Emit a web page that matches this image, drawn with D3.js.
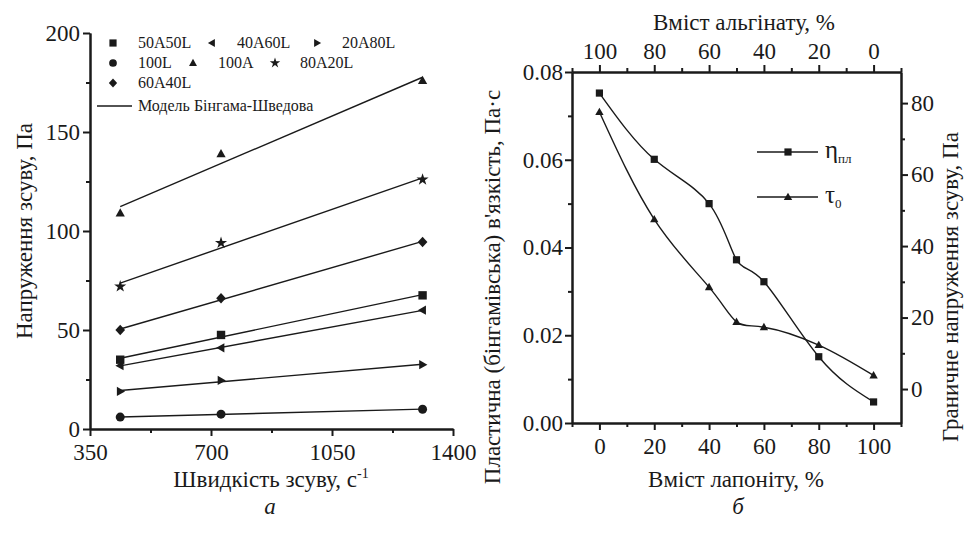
<!DOCTYPE html>
<html>
<head>
<meta charset="utf-8">
<script src="https://cdn.jsdelivr.net/npm/d3@7"></script>
<style>
  body { margin: 0; background: #fff; }
</style>
</head>
<body>
<svg id="chart" width="972" height="536"></svg>
<script>
// Panel a: shear stress vs shear rate, 7 samples + Bingham fits
var shearRate = [437.4, 729, 1312];
var sampleNames = ['50A50L', '40A60L', '20A80L', '100L', '100A', '80A20L', '60A40L'];
var sampleMarkers = ['square', 'triLeft', 'triRight', 'circle', 'triUp', 'star', 'diamond'];
var stress50A50L = [35, 47.5, 67.5];
var stress40A60L = [32, 41, 60];
var stress20A80L = [19, 24.5, 32.5];
var stress100L = [6, 7.5, 10];
var stress100A = [109, 139, 176];
var stress80A20L = [72, 94, 126];
var stress60A40L = [50, 66, 94.5];
var stressTicks = [0, 50, 100, 150, 200];
var rateTicks = [350, 700, 1050, 1400];

// Panel б: plastic viscosity and yield stress vs laponite content
var laponite = [0, 20, 40, 50, 60, 80, 100];
var viscosity = [0.0752, 0.0601, 0.0500, 0.0372, 0.0322, 0.0151, 0.0048];
var yieldStress = [77.5, 47.5, 28.5, 18.8, 17.3, 12.3, 3.8];
var contentTicks = [0, 20, 40, 60, 80, 100];
var viscTicks = [0, 0.02, 0.04, 0.06, 0.08];
var yieldTicks = [0, 20, 40, 60, 80];

var stressSeries = [stress50A50L, stress40A60L, stress20A80L, stress100L, stress100A, stress80A20L, stress60A40L];

var FONT = 'Liberation Serif';
var svg = d3.select('#chart');
var ink = '#1a1a1a';

// marker shapes, centred on 0,0
function markerPath(type, h) {
  if (type == 'square') return 'M' + (-h) + ',' + (-h) + 'H' + h + 'V' + h + 'H' + (-h) + 'Z';
  if (type == 'circle') return d3.symbol(d3.symbolCircle, Math.PI * h * h * 1.15)();
  if (type == 'star') return d3.symbol(d3.symbolStar, h * h * 2.6)();
  if (type == 'triUp') return 'M0,' + (-h * 1.15) + 'L' + (h * 1.1) + ',' + (h * 0.8) + 'L' + (-h * 1.1) + ',' + (h * 0.8) + 'Z';
  if (type == 'triLeft') return 'M' + (-h * 1.15) + ',0L' + (h * 0.8) + ',' + (-h * 1.1) + 'L' + (h * 0.8) + ',' + (h * 1.1) + 'Z';
  if (type == 'triRight') return 'M' + (h * 1.15) + ',0L' + (-h * 0.8) + ',' + (-h * 1.1) + 'L' + (-h * 0.8) + ',' + (h * 1.1) + 'Z';
  if (type == 'diamond') return 'M0,' + (-h * 1.25) + 'L' + (h * 1.15) + ',0L0,' + (h * 1.25) + 'L' + (-h * 1.15) + ',0Z';
}

function styleAxis(g) {
  g.attr('font-family', FONT);
  g.select('.domain').attr('stroke', ink).attr('stroke-width', 2);
  g.selectAll('.tick line').attr('stroke', ink).attr('stroke-width', 2);
  g.selectAll('.tick text').attr('font-size', 23).attr('fill', ink).attr('font-family', FONT);
}

function label(sel) {
  return sel.append('text').attr('font-family', FONT).attr('fill', ink);
}

// least squares line for the Bingham–Shvedov model
function fitLine(xs, ys) {
  var mx = d3.mean(xs), my = d3.mean(ys);
  var sxy = d3.sum(xs, function(x, i) { return (x - mx) * (ys[i] - my); });
  var sxx = d3.sum(xs, function(x) { return (x - mx) * (x - mx); });
  var b = sxy / sxx;
  return function(x) { return my + b * (x - mx); };
}

// ---------------- panel a ----------------
var xA = d3.scaleLinear().domain([350, 1400]).range([90, 453]);
var yA = d3.scaleLinear().domain([0, 200]).range([429, 33]);

svg.append('g').attr('transform', 'translate(90,0)')
  .call(d3.axisLeft(yA).tickValues([25, 75, 125, 175]).tickSize(4).tickFormat('').tickSizeOuter(0))
  .call(styleAxis);
svg.append('g').attr('transform', 'translate(90,0)')
  .call(d3.axisLeft(yA).tickValues(stressTicks).tickSize(7).tickPadding(3).tickSizeOuter(0))
  .call(styleAxis);
svg.append('g').attr('transform', 'translate(0,429)')
  .call(d3.axisBottom(xA).tickValues([525, 875, 1225]).tickSize(4).tickFormat('').tickSizeOuter(0))
  .call(styleAxis);
svg.append('g').attr('transform', 'translate(0,429)')
  .call(d3.axisBottom(xA).tickValues(rateTicks).tickSize(7).tickPadding(8).tickFormat(d3.format('d')).tickSizeOuter(0))
  .call(styleAxis);

var gA = svg.append('g');
stressSeries.forEach(function(vals, i) {
  var f = fitLine(shearRate, vals);
  var ends = [shearRate[0], shearRate[shearRate.length - 1]];
  gA.append('line')
    .attr('x1', xA(ends[0])).attr('y1', yA(f(ends[0])))
    .attr('x2', xA(ends[1])).attr('y2', yA(f(ends[1])))
    .attr('stroke', ink).attr('stroke-width', 1.4);
  gA.selectAll(null).data(vals).enter().append('path')
    .attr('d', markerPath(sampleMarkers[i], 4.2))
    .attr('transform', function(d, j) { return 'translate(' + xA(shearRate[j]) + ',' + yA(d) + ')'; })
    .attr('fill', ink);
});

// legend a
var legendA = [
  [0, 0, 0], [1, 99, 0], [2, 204, 0],
  [3, 0, 20], [4, 80, 20], [5, 162, 20],
  [6, 0, 40]
];
var lg = svg.append('g').attr('transform', 'translate(113,43)');
legendA.forEach(function(e) {
  lg.append('path').attr('d', markerPath(sampleMarkers[e[0]], 3.6))
    .attr('transform', 'translate(' + e[1] + ',' + e[2] + ')').attr('fill', ink);
  label(lg).attr('x', e[1] + 25).attr('y', e[2] + 5)
    .attr('font-size', 16).text(sampleNames[e[0]]);
});
lg.append('line').attr('x1', -16).attr('x2', 19).attr('y1', 63).attr('y2', 63)
  .attr('stroke', ink).attr('stroke-width', 1.4);
label(lg).attr('x', 25).attr('y', 68).attr('font-size', 16).text('Модель Бінгама-Шведова');

label(svg).attr('transform', 'translate(32,231) rotate(-90)')
  .attr('text-anchor', 'middle').attr('font-size', 23).text('Напруження зсуву, Па');
var xt = label(svg).attr('x', 271).attr('y', 487).attr('text-anchor', 'middle').attr('font-size', 23);
xt.append('tspan').text('Швидкість зсуву, с');
xt.append('tspan').attr('dy', -9).attr('font-size', 14).text('-1');
label(svg).attr('x', 270).attr('y', 514).attr('text-anchor', 'middle')
  .attr('font-size', 23).attr('font-style', 'italic').text('a');

// ---------------- panel б ----------------
var xB = d3.scaleLinear().domain([-10, 110]).range([572, 901]);
var yB = d3.scaleLinear().domain([0, 0.08]).range([423, 72]);
var yB2 = d3.scaleLinear().domain([-9.5, 88.7]).range([423, 72]);
var xTop = d3.scaleLinear().domain([110, -10]).range([572, 901]);

function minorOf(ticks, step) {
  return ticks.slice(0, -1).map(function(t) { return t + step; });
}

svg.append('g').attr('transform', 'translate(572,0)')
  .call(d3.axisLeft(yB).tickValues(minorOf(viscTicks, 0.01)).tickSize(4).tickFormat('').tickSizeOuter(0))
  .call(styleAxis);
svg.append('g').attr('transform', 'translate(572,0)')
  .call(d3.axisLeft(yB).tickValues(viscTicks).tickSize(7).tickPadding(2).tickFormat(d3.format('.2f')).tickSizeOuter(0))
  .call(styleAxis);
svg.append('g').attr('transform', 'translate(901,0)')
  .call(d3.axisRight(yB2).tickValues(minorOf(yieldTicks, 10)).tickSize(4).tickFormat('').tickSizeOuter(0))
  .call(styleAxis);
svg.append('g').attr('transform', 'translate(901,0)')
  .call(d3.axisRight(yB2).tickValues(yieldTicks).tickSize(7).tickPadding(3).tickSizeOuter(0))
  .call(styleAxis);
svg.append('g').attr('transform', 'translate(0,423)')
  .call(d3.axisBottom(xB).tickValues([-10, 10, 30, 50, 70, 90, 110]).tickSize(4).tickFormat('').tickSizeOuter(0))
  .call(styleAxis);
svg.append('g').attr('transform', 'translate(0,423)')
  .call(d3.axisBottom(xB).tickValues(contentTicks).tickSize(7).tickPadding(8).tickSizeOuter(0))
  .call(styleAxis);
svg.append('g').attr('transform', 'translate(0,72)')
  .call(d3.axisTop(xTop).tickValues([110, 90, 70, 50, 30, 10, -10]).tickSize(4).tickFormat('').tickSizeOuter(0))
  .call(styleAxis);
svg.append('g').attr('transform', 'translate(0,72)')
  .call(d3.axisTop(xTop).tickValues(contentTicks).tickSize(7).tickPadding(6).tickSizeOuter(0))
  .call(styleAxis);

var curve = d3.curveNatural;
var lineVisc = d3.line().curve(curve)
  .x(function(d, i) { return xB(laponite[i]); })
  .y(function(d) { return yB(d); });
var lineYield = d3.line().curve(curve)
  .x(function(d, i) { return xB(laponite[i]); })
  .y(function(d) { return yB2(d); });

var gB = svg.append('g');
gB.append('path').attr('d', lineVisc(viscosity)).attr('fill', 'none').attr('stroke', ink).attr('stroke-width', 1.4);
gB.append('path').attr('d', lineYield(yieldStress)).attr('fill', 'none').attr('stroke', ink).attr('stroke-width', 1.4);
gB.selectAll('.msq').data(viscosity).enter().append('path')
  .attr('d', markerPath('square', 3.6))
  .attr('transform', function(d, i) { return 'translate(' + xB(laponite[i]) + ',' + yB(d) + ')'; })
  .attr('fill', ink);
gB.selectAll('.mtr').data(yieldStress).enter().append('path')
  .attr('d', markerPath('triUp', 3.8))
  .attr('transform', function(d, i) { return 'translate(' + xB(laponite[i]) + ',' + yB2(d) + ')'; })
  .attr('fill', ink);

// legend б
var lb = svg.append('g').attr('transform', 'translate(757,152)');
lb.append('line').attr('x1', 0).attr('x2', 61).attr('y1', 0).attr('y2', 0).attr('stroke', ink).attr('stroke-width', 1.4);
lb.append('path').attr('d', markerPath('square', 3.6)).attr('transform', 'translate(31,0)').attr('fill', ink);
var t1 = label(lb).attr('x', 68).attr('y', 6).attr('font-size', 25);
t1.append('tspan').text('η');
t1.append('tspan').attr('dy', 5).attr('font-size', 13).text('пл');
lb.append('line').attr('x1', 0).attr('x2', 61).attr('y1', 45).attr('y2', 45).attr('stroke', ink).attr('stroke-width', 1.4);
lb.append('path').attr('d', markerPath('triUp', 3.8)).attr('transform', 'translate(31,45)').attr('fill', ink);
var t2 = label(lb).attr('x', 68).attr('y', 51).attr('font-size', 25);
t2.append('tspan').text('τ');
t2.append('tspan').attr('dy', 5).attr('font-size', 13).text('0');

label(svg).attr('transform', 'translate(500,287) rotate(-90)')
  .attr('text-anchor', 'middle').attr('font-size', 23).text('Пластична (бінгамівська) в\'язкість, Па·с');
label(svg).attr('transform', 'translate(958,287) rotate(-90)')
  .attr('text-anchor', 'middle').attr('font-size', 23).text('Граничне напруження зсуву, Па');
label(svg).attr('x', 736).attr('y', 487).attr('text-anchor', 'middle')
  .attr('font-size', 23).text('Вміст лапоніту, %');
label(svg).attr('x', 744).attr('y', 30).attr('text-anchor', 'middle')
  .attr('font-size', 23).text('Вміст альгінату, %');
label(svg).attr('x', 738).attr('y', 514).attr('text-anchor', 'middle')
  .attr('font-size', 23).attr('font-style', 'italic').text('б');
</script>
</body>
</html>
